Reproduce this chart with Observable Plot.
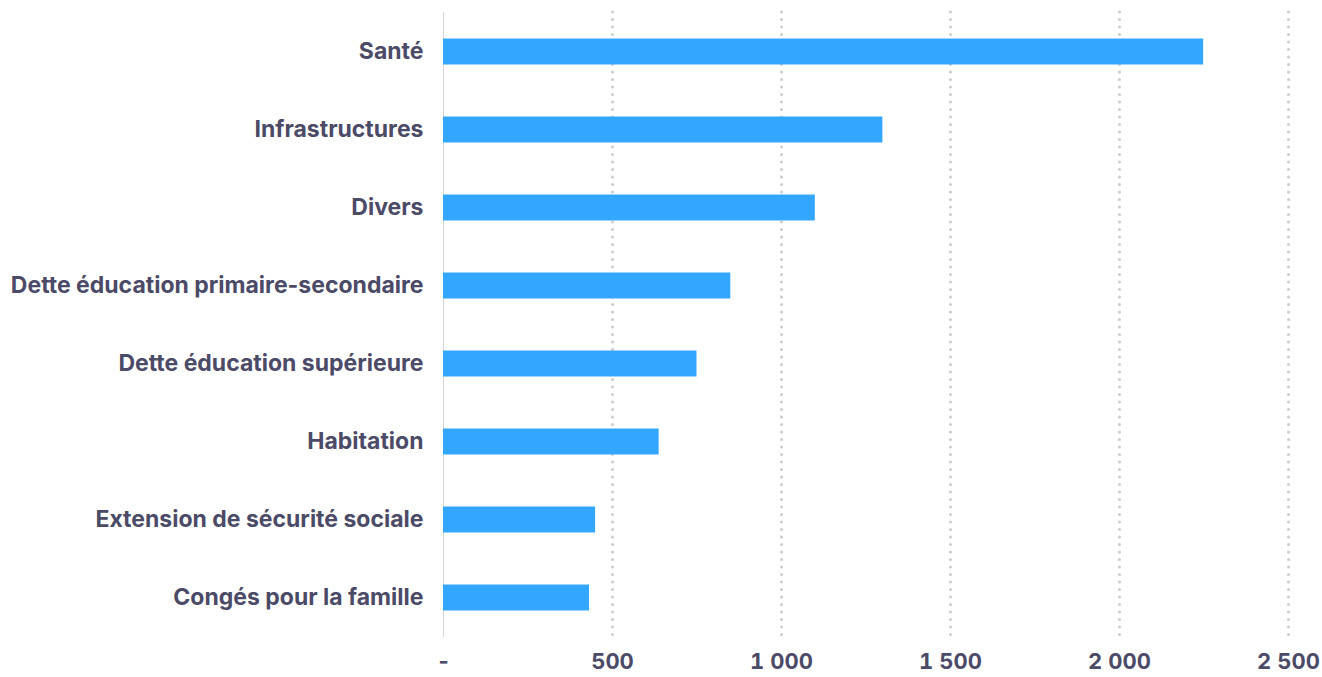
<!DOCTYPE html>
<html><head><meta charset="utf-8">
<script src="https://cdn.jsdelivr.net/npm/d3@7"></script>
<script src="https://cdn.jsdelivr.net/npm/@observablehq/plot@0.6"></script>
<style>
html,body{margin:0;padding:0;background:#fff;}
#chart svg{display:block;}
</style>
</head><body><div id="chart"></div>
<script>
const categories = ["Santé","Infrastructures","Divers","Dette éducation primaire-secondaire","Dette éducation supérieure","Habitation","Extension de sécurité sociale","Congés pour la famille"];
const values = [2249, 1300, 1100, 850, 750, 638, 450, 432];
const xTicks = [0, 500, 1000, 1500, 2000, 2500];
const xTickLabels = ["-", "500", "1 000", "1 500", "2 000", "2 500"];

const data = categories.map((c, i) => ({category: c, value: values[i]}));
const textColor = "#4b4a67";

const chart = Plot.plot({
  width: 1322,
  height: 677,
  marginLeft: 443,
  marginRight: 34,
  marginTop: 12,
  marginBottom: 40,
  style: {fontFamily: "Inter, sans-serif", fontWeight: "bold", fontSize: "23px", color: textColor, background: "#fff"},
  x: {domain: [0, 2500], ticks: xTicks, tickFormat: (d) => xTickLabels[xTicks.indexOf(d)], label: null},
  y: {domain: categories, label: null, paddingInner: 0.667, paddingOuter: 0.34, round: false},
  marks: [
    Plot.ruleX(xTicks.slice(1), {stroke: "#cccccc", strokeWidth: 3, strokeDasharray: "0 7.5", strokeLinecap: "round"}),
    Plot.ruleX([0], {stroke: "#d9d9d9", strokeWidth: 1.2}),
    Plot.barX(data, {x: "value", y: "category", fill: "#33a6ff"}),
    Plot.axisX({ticks: xTicks, tickFormat: (d) => xTickLabels[xTicks.indexOf(d)], tickSize: 0, tickPadding: 16, fontSize: 22, fontWeight: "bold", fill: textColor, label: null}),
    Plot.axisY({tickSize: 0, tickPadding: 20, fontSize: 23, fontWeight: "bold", fill: textColor, label: null})
  ]
});
document.getElementById("chart").appendChild(chart);
</script></body></html>
